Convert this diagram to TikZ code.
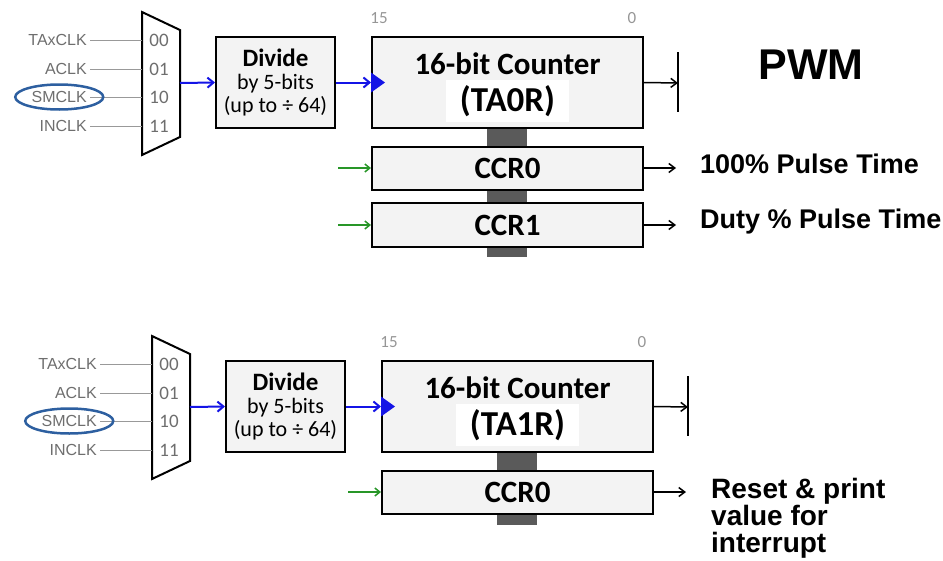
\documentclass[tikz,border=0pt]{standalone}
\usepackage{fontspec}
\setmainfont{Carlito}
\newfontfamily\labelfont{Liberation Sans}
\usepackage{xcolor}
\usetikzlibrary{arrows.meta, calc}
\definecolor{boxFill}{RGB}{243,243,243}
\definecolor{spineGray}{RGB}{90,90,90}
\definecolor{clkBlue}{RGB}{20,20,230}
\definecolor{selGreen}{RGB}{40,150,40}
\definecolor{ringBlue}{RGB}{45,95,160}
\definecolor{srcGray}{RGB}{110,110,110}
\definecolor{bitGray}{RGB}{150,150,150}

\begin{document}
\begin{tikzpicture}[x=1pt, y=-1pt,
    blk/.style={draw, line width=2pt, fill=boxFill, inner sep=0pt},
    srclbl/.style={font=\labelfont\fontsize{16}{16}\selectfont, text=srcGray, anchor=east, inner sep=3pt},
    selnum/.style={font=\fontsize{19}{19}\selectfont, text=srcGray},
    bitnum/.style={font=\fontsize{17}{17}\selectfont, text=bitGray},
    cnttext/.style={font=\bfseries\fontsize{31}{31}\selectfont, inner sep=1pt},
    wire/.style={draw=srcGray!70, line width=1pt},
    clk/.style={-{Straight Barb[length=6pt, width=10pt]}, line width=2pt, clkBlue},
    outarrow/.style={-{Straight Barb[length=6pt, width=9pt]}, line width=1.5pt},
    selarrow/.style={-{Straight Barb[length=5pt, width=8pt]}, line width=1.5pt, selGreen},
    note/.style={font=\labelfont\bfseries\fontsize{27}{27}\selectfont, align=left, inner sep=0pt}]
    \useasboundingbox (0,0) rectangle (943,560);
    % Timer A0 (top) and timer A1 (bottom)
    \foreach \blk/\dx/\dy/\reg/\spine in {A/0/0/TA0R/257, B/10/324/TA1R/201} {
      \begin{scope}[shift={(\dx,\dy)}]
        % Spine behind counter and compare registers
        \fill[spineGray] (487,128) rectangle (527,\spine);
        % Clock source mux
        \draw[line width=2pt, fill=white] (142,12) -- (180,30) -- (180,137) -- (142,155) -- cycle;
        \foreach \y/\src/\num [count=\k] in {40/TAxCLK/00, 69/ACLK/01, 97/SMCLK/10, 126/INCLK/11} {
          \node[srclbl] (src\blk\k) at (90,\y) {\src};
          \coordinate (in\blk\k) at (142,\y);
          \draw[wire] (src\blk\k) -- (in\blk\k);
          \node[selnum] (sel\blk\k) at (159,\y) {\num};
        }
        \draw[ringBlue, line width=2.5pt] (src\blk3.center) ellipse (44pt and 12.5pt);
        \coordinate (mux\blk) at (180,83);
        % Divider and counter
        \node[blk, minimum width=119pt, minimum height=91pt, align=center, font=\fontsize{22}{23}\selectfont] (div\blk) at (275.5,82.5)
          {{\bfseries\fontsize{25}{23}\selectfont Divide}\\by 5-bits\\(up to ÷ 64)};
        \node[blk, minimum width=271pt, minimum height=91pt] (cnt\blk) at (507.5,82.5) {};
        \node[cnttext] (cntname\blk) at (507.5,64) {16-bit Counter};
        \node[cnttext, fill=white, font=\bfseries\fontsize{35}{35}\selectfont, minimum width=123pt, minimum height=42pt] (cntreg\blk) at (507.5,101) {(\reg)};
        \node[bitnum] (msb\blk) at (379,18) {15};
        \node[bitnum] (lsb\blk) at (632,18) {0};
        \fill[clkBlue] ($(cnt\blk.west)+(0,-10)$) -- ++(14,10) -- ++(-14,10) -- cycle;
        \draw[clk] (mux\blk) -- (div\blk.west);
        \draw[clk] (div\blk.east) -- (cnt\blk.west);
        % Overflow output
        \coordinate (ovf\blk) at (678,83);
        \draw[line width=2pt] (678,52) -- (678,112);
        \draw[outarrow] (cnt\blk.east) -- (ovf\blk);
        % Compare register 0
        \node[blk, minimum width=271pt, minimum height=43pt, font=\bfseries\fontsize{31}{31}\selectfont] (ccrzero\blk) at (507.5,168) {CCR0};
        \coordinate (czin\blk) at (338,168);
        \coordinate (czout\blk) at (676,168);
        \draw[selarrow] (czin\blk) -- (ccrzero\blk.west);
        \draw[outarrow] (ccrzero\blk.east) -- (czout\blk);
      \end{scope}
    }
    % Compare register 1 of timer A0
    \node[blk, minimum width=271pt, minimum height=44pt, font=\bfseries\fontsize{31}{31}\selectfont] (ccroneA) at (507.5,225) {CCR1};
    \coordinate (coin) at (338,225);
    \coordinate (coout) at (676,225);
    \draw[selarrow] (coin) -- (ccroneA.west);
    \draw[outarrow] (ccroneA.east) -- (coout);
    % Labels
    \node[font=\labelfont\bfseries\fontsize{43}{43}\selectfont] (pwm) at (811,65) {PWM};
    \node[note, anchor=base west] (fullpulse) at (700,173) {100\% Pulse Time};
    \node[note, anchor=base west] (dutypulse) at (700,228) {Duty \% Pulse Time};
    \node[note, font=\labelfont\bfseries\fontsize{28}{27}\selectfont, anchor=north west] (resetnote) at (711,478) {Reset \& print\\value for\\interrupt};
  \end{tikzpicture}
\end{document}
